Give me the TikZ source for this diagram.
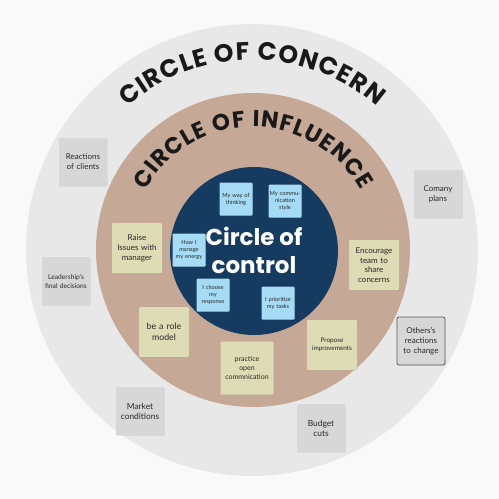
\documentclass[tikz,border=0pt]{standalone}
\usepackage{fontspec}
\setmainfont{Lato}
\newfontfamily\titlefont{Poppins}
\usetikzlibrary{decorations.text,shadows}
\definecolor{bgc}{RGB}{249,249,249}
\definecolor{concernc}{RGB}{232,232,232}
\definecolor{influc}{RGB}{197,169,150}
\definecolor{controlc}{RGB}{22,59,96}
\definecolor{bluenote}{RGB}{166,219,246}
\definecolor{yellownote}{RGB}{222,220,180}
\definecolor{graynote}{RGB}{215,215,215}
\definecolor{inkc}{RGB}{40,40,40}
\begin{document}
\begin{tikzpicture}[x=1pt,y=-1pt,
  ring/.style={circle, inner sep=0pt},
  note/.style={rounded corners=1pt, inner sep=0pt, align=center, text=inkc,
    drop shadow={shadow xshift=0.5pt, shadow yshift=-0.7pt, opacity=0.18}},
  bnote/.style={note, fill=bluenote, minimum width=33pt, minimum height=33pt, text width=32pt, font=\fontsize{5.7}{7}\selectfont},
  ynote/.style={note, fill=yellownote, minimum width=50pt, minimum height=50pt, text width=48pt, font=\fontsize{8}{10}\selectfont},
  gnote/.style={note, fill=graynote, minimum width=48pt, minimum height=48pt, text width=46pt, font=\fontsize{8}{10}\selectfont},
  arctext/.style 2 args={decorate, decoration={text along path, text align={fit to path}, text={|\titlefont\bfseries\fontsize{#1}{#1}\selectfont\color{black!90}|#2}}}
]
\fill[bgc] (0,0) rectangle (499,499);
\node[ring, fill=concernc, minimum size=452pt] (concern) at (252,250) {};
\node[ring, fill=influc, minimum size=314pt] (influence) at (253,250) {};
\node[ring, fill=controlc, minimum size=168pt] (control) at (254,251) {};

\path[arctext={25}{CIRCLE OF CONCERN}] (252,250) ++(229:190) arc[start angle=229, end angle=311, radius=190];
\path[arctext={23}{CIRCLE OF INFLUENCE}] (253,250) ++(209:123) arc[start angle=209, end angle=331, radius=123];

\node[text=white, align=center, font=\titlefont\bfseries\fontsize{23}{28}\selectfont] (ctltitle) at (254,250) {Circle of\\control};

% circle of control notes
\node[bnote] (b1) at (236,199) {My way of\\thinking};
\node[bnote] (b2) at (285,201) {My commu-\\nication\\style};
\node[bnote] (b3) at (189,250) {How I\\manage\\my energy};
\node[bnote] (b4) at (213,295) {I choose\\my\\response};
\node[bnote] (b5) at (278,303) {I prioritize\\my tasks};

% circle of influence notes
\node[ynote] (y1) at (137,248) {Raise\\Issues with\\manager};
\node[ynote, font=\fontsize{8.8}{11}\selectfont] (y2) at (164,332) {be a role\\model};
\node[ynote, minimum width=53pt, minimum height=53pt, font=\fontsize{7}{9}\selectfont] (y3) at (247,368) {practice\\open\\commnication};
\node[ynote, font=\fontsize{6.4}{8}\selectfont] (y4) at (332,345) {Propose\\improvements};
\node[ynote, font=\fontsize{8}{9.6}\selectfont] (y5) at (374,265) {Encourage\\team to\\share\\concerns};

% circle of concern notes
\node[gnote] (g1) at (83,162) {Reactions\\of clients};
\node[gnote, font=\fontsize{6.7}{9}\selectfont] (g2) at (66,281) {Leadership's\\final decisions};
\node[gnote, font=\fontsize{8.4}{10}\selectfont] (g3) at (140,411) {Market\\conditions};
\node[gnote, font=\fontsize{8.4}{10}\selectfont] (g4) at (321,428) {Budget\\cuts};
\node[gnote] (g5) at (438,194) {Comany\\plans};
\node[gnote, draw=black!65, line width=0.8pt, rounded corners=2pt] (g6) at (421,341) {Others's\\reactions\\to change};
\end{tikzpicture}
\end{document}
